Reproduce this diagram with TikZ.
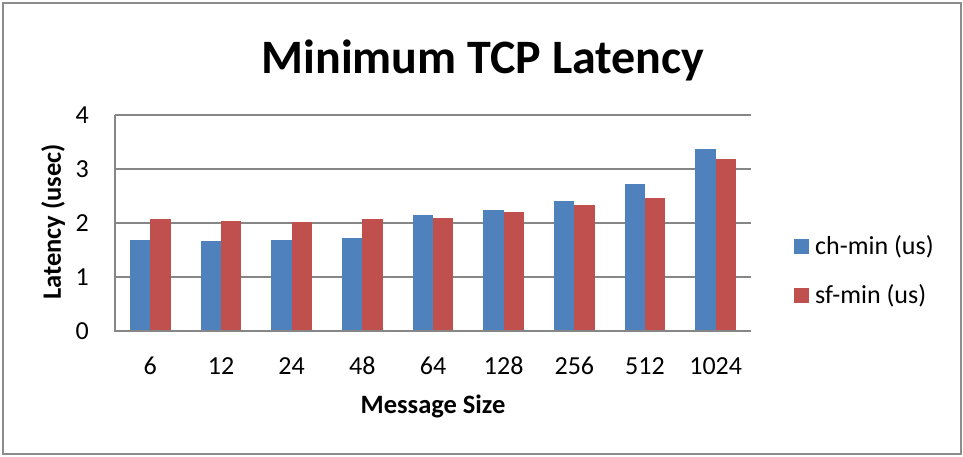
\documentclass[tikz,border=0pt]{standalone}
\usepackage{fontspec}
\setmainfont{Carlito}
\definecolor{serA}{HTML}{4F81BD}
\definecolor{serB}{HTML}{C0504D}
\definecolor{axisgray}{HTML}{868686}
\definecolor{framegray}{HTML}{8C8C8C}
\begin{document}
\begin{tikzpicture}[x=1pt,y=-1pt,
  lbl/.style={inner sep=0pt, font=\fontsize{26}{30}\selectfont},
  axtitle/.style={inner sep=0pt, font=\fontsize{26.5}{30}\selectfont\bfseries},
  grid line/.style={draw=axisgray, line width=1.6pt},
  keybox/.style={minimum size=15pt, inner sep=0pt}]
\useasboundingbox (0,0) rectangle (963,456);
% chart frame
\draw[framegray, line width=2pt] (3,3) rectangle (961,454);
% title
\node[inner sep=0pt, anchor=base, font=\fontsize{48}{56}\selectfont\bfseries] (title) at (483,73) {Minimum TCP Latency};
% horizontal grid lines and value labels
\foreach \k in {1,2,3,4} {
  \draw[grid line] (115,331-\k*54) -- (751,331-\k*54);
}
\foreach \k in {0,1,2,3,4} {
  \node[lbl, anchor=east] (ytick\k) at (89,331-\k*54) {\k};
}
% bars
\foreach \a/\b/\n [count=\i from 0] in {1.68/2.08/6, 1.67/2.035/12, 1.69/2.01/24, 1.725/2.07/48, 2.15/2.10/64, 2.24/2.20/128, 2.41/2.33/256, 2.73/2.46/512, 3.37/3.18/1024} {
  \pgfmathsetmacro\c{115+(\i+0.5)*70.667}
  \fill[serA] (\c-20.2,331) rectangle (\c,331-\a*54);
  \fill[serB] (\c,331) rectangle (\c+20.2,331-\b*54);
  \node[lbl, anchor=base] (xtick\i) at (\c,374) {\n};
}
% axes
\draw[axisgray, line width=1.6pt] (115,115) -- (115,331) -- (751,331);
% axis titles
\node[axtitle, anchor=base] (xtitle) at (433,413) {Message Size};
\node[axtitle, rotate=90] (ytitle) at (53,222) {Latency (usec)};
% legend
\node[keybox, fill=serA] (keyA) at (801.5,246.5) {};
\node[keybox, fill=serB] (keyB) at (801.5,295.5) {};
\node[lbl, anchor=west] (keyAtext) at (815,247) {ch-min (us)};
\node[lbl, anchor=west] (keyBtext) at (815,295.5) {sf-min (us)};
\end{tikzpicture}
\end{document}
